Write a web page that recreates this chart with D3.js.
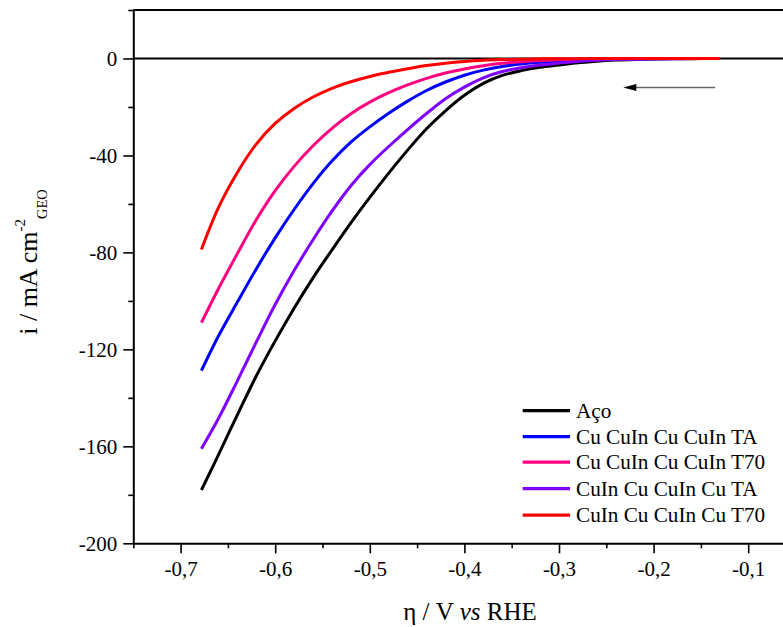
<!DOCTYPE html>
<html>
<head>
<meta charset="utf-8">
<script src="https://cdn.jsdelivr.net/npm/d3@7"></script>
<style>
  html, body { margin: 0; padding: 0; background: #fff; }
  svg, svg text { font-family: 'Liberation Serif', serif !important; }
  svg { display: block; }
</style>
</head>
<body>
<svg id="chart" width="783" height="627"></svg>
<script>
// Potential (V vs RHE) sampled for every polarisation curve
const potential = [-0.678, -0.66, -0.64, -0.62, -0.60, -0.58, -0.56, -0.54, -0.52, -0.50,
                   -0.48, -0.46, -0.44, -0.42, -0.40, -0.38, -0.36, -0.34, -0.32, -0.30,
                   -0.28, -0.26, -0.24, -0.22, -0.20, -0.18, -0.16, -0.13];

// Current density (mA cm-2) for each electrode
const aco = [-178, -163.5, -147, -131, -116.5, -103, -90.5, -79, -67.8, -57.3,
             -47.3, -37.8, -29, -21.6, -15.2, -10.3, -7.0, -5.0, -3.6, -2.7,
             -1.8, -1.1, -0.65, -0.38, -0.22, -0.12, -0.06, 0];
const cuCuInTA = [-128.8, -114.5, -100.5, -86.8, -74, -62.3, -51.6, -42.3, -34.5, -28.2,
                  -22.6, -17.6, -13.2, -9.7, -6.9, -4.8, -3.3, -2.3, -1.6, -1.1,
                  -0.7, -0.45, -0.3, -0.2, -0.1, -0.05, -0.02, 0];
const cuCuInT70 = [-109, -95, -80.5, -66.5, -54.5, -44.5, -36, -28.8, -22.8, -18,
                   -14.1, -10.9, -8.2, -6.0, -4.3, -3.0, -2.0, -1.3, -0.8, -0.5,
                   -0.3, -0.2, -0.1, -0.06, -0.04, -0.02, -0.01, 0];
const cuInCuTA = [-161, -148.5, -133, -117, -101.5, -87.5, -74.8, -63, -52.5, -43.8,
                  -36.3, -29.3, -22.7, -16.6, -11.8, -8.0, -5.4, -3.8, -2.7, -1.9,
                  -1.2, -0.75, -0.45, -0.27, -0.16, -0.1, -0.05, 0];
const cuInCuT70 = [-78.8, -61.5, -47, -35.3, -26.8, -20.6, -15.9, -12.3, -9.6, -7.4,
                   -5.7, -4.2, -2.9, -1.95, -1.25, -0.75, -0.45, -0.27, -0.16, -0.1,
                   -0.06, -0.04, -0.02, -0.01, 0, 0, 0, 0];

const seriesNames = ["Aço", "Cu CuIn Cu CuIn TA", "Cu CuIn Cu CuIn T70", "CuIn Cu CuIn Cu TA", "CuIn Cu CuIn Cu T70"];
const seriesValues = [aco, cuCuInTA, cuCuInT70, cuInCuTA, cuInCuT70];
const seriesColors = ["#000000", "#0000ff", "#ff0080", "#8000ff", "#ff0000"];

const xMajorTicks = [-0.7, -0.6, -0.5, -0.4, -0.3, -0.2, -0.1];
const xMinorTicks = [-0.75, -0.65, -0.55, -0.45, -0.35, -0.25, -0.15, -0.05];
const yMajorTicks = [0, -40, -80, -120, -160, -200];
const yMinorTicks = [20, -20, -60, -100, -140, -180];

const svg = d3.select("#chart");
const serif = "'Liberation Serif', serif";

const plotLeft = 133.3, plotBottom = 543.3, plotTop = 10;
const x = d3.scaleLinear().domain([-0.75, 0]).range([plotLeft, plotLeft + 0.75 * 946]);
const y = d3.scaleLinear().domain([-200, 20]).range([plotBottom, plotTop]);

const locale = d3.formatLocale({ decimal: ",", thousands: ".", grouping: [3], currency: ["", ""], minus: "-" });
const fmtX = locale.format(".1f");
const fmtY = locale.format("d");

// frame: top border and zero-current reference line
svg.append("line")
  .attr("x1", x(-0.75)).attr("x2", 783)
  .attr("y1", y(20)).attr("y2", y(20))
  .attr("stroke", "#000").attr("stroke-width", 2);
svg.append("line")
  .attr("x1", x(-0.75)).attr("x2", 783)
  .attr("y1", y(0)).attr("y2", y(0))
  .attr("stroke", "#000").attr("stroke-width", 2);

// x axis
const gx = svg.append("g").attr("transform", `translate(0,${plotBottom})`);
gx.call(d3.axisBottom(x).tickValues(xMajorTicks).tickSize(10).tickSizeOuter(0).tickPadding(8).tickFormat(fmtX));
const gxm = svg.append("g").attr("transform", `translate(0,${plotBottom})`);
gxm.call(d3.axisBottom(x).tickValues(xMinorTicks).tickSize(5).tickSizeOuter(0).tickFormat(""));
gxm.select(".domain").remove();

// y axis
const gy = svg.append("g").attr("transform", `translate(${plotLeft},0)`);
gy.call(d3.axisLeft(y).tickValues(yMajorTicks).tickSize(10).tickSizeOuter(0).tickPadding(6).tickFormat(fmtY));
const gym = svg.append("g").attr("transform", `translate(${plotLeft},0)`);
gym.call(d3.axisLeft(y).tickValues(yMinorTicks).tickSize(5).tickSizeOuter(0).tickFormat(""));
gym.select(".domain").remove();

svg.selectAll("g").attr("font-family", null).style("font-family", serif);
svg.selectAll(".domain").attr("stroke-width", 2).attr("stroke", "#000");
svg.selectAll(".tick line").attr("stroke-width", 1.6).attr("stroke", "#000");
svg.selectAll(".tick text")
  .style("font-family", serif)
  .attr("font-size", 21).attr("fill", "#000");
gx.select(".domain").attr("d", `M${plotLeft},0.5H783`);

// curves
const line = d3.line()
  .x(d => x(d[0]))
  .y(d => y(d[1]))
  .curve(d3.curveCatmullRom.alpha(0.5));

seriesValues.forEach((vals, i) => {
  svg.append("path")
    .datum(potential.map((p, k) => [p, vals[k]]))
    .attr("fill", "none")
    .attr("stroke", seriesColors[i])
    .attr("stroke-width", 3)
    .attr("stroke-linejoin", "round")
    .attr("d", line);
});

// scan direction arrow
svg.append("line")
  .attr("x1", x(-0.135)).attr("x2", x(-0.225))
  .attr("y1", y(-12)).attr("y2", y(-12))
  .attr("stroke", "#666").attr("stroke-width", 1.5);
svg.append("path")
  .attr("d", `M${x(-0.232)},${y(-12)}l13,-3.5l0,7z`)
  .attr("fill", "#000");

// legend
const legend = svg.append("g");
const legendY = [410.7, 436.7, 462.2, 488.7, 515.2];
seriesNames.forEach((name, i) => {
  legend.append("line")
    .attr("x1", 522.7).attr("x2", 570)
    .attr("y1", legendY[i]).attr("y2", legendY[i])
    .attr("stroke", seriesColors[i]).attr("stroke-width", 3.2);
  legend.append("text")
    .attr("x", 576).attr("y", legendY[i] + 7)
    .style("font-family", serif)
    .attr("font-size", 21.2).attr("fill", "#000")
    .text(name);
});

// axis titles
const xt = svg.append("text")
  .attr("x", 470).attr("y", 620)
  .attr("text-anchor", "middle")
  .style("font-family", serif)
  .attr("font-size", 25).attr("fill", "#000");
xt.append("tspan").text("η / V ");
xt.append("tspan").attr("font-style", "italic").text("vs");
xt.append("tspan").text(" RHE");

const yt = svg.append("text")
  .attr("transform", "translate(37,262) rotate(-90)")
  .attr("text-anchor", "middle")
  .style("font-family", serif)
  .attr("font-size", 26).attr("fill", "#000");
yt.append("tspan").text("i / mA cm");
yt.append("tspan").attr("font-size", 15).attr("dy", -12).text("-2");
yt.append("tspan").attr("font-size", 14.5).attr("dy", 22).text("GEO");
</script>
</body>
</html>
